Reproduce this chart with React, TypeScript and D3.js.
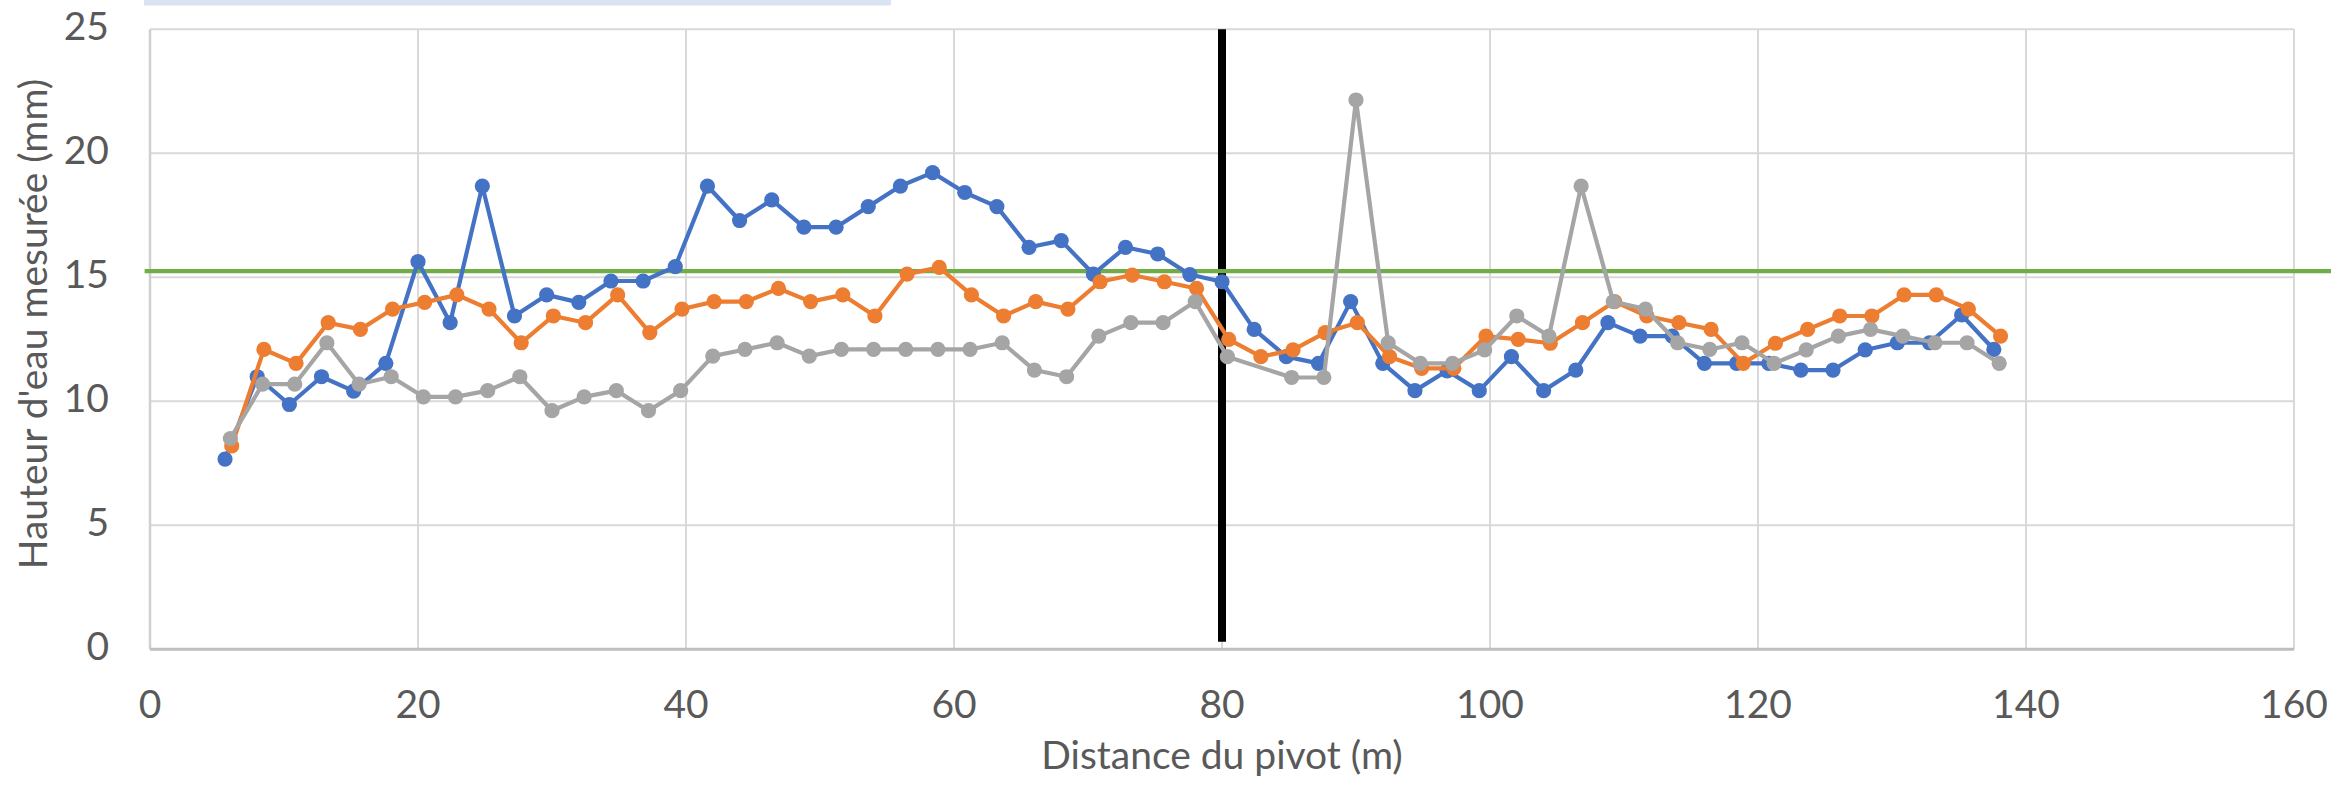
import React from "react";
import * as d3 from "d3";

// ---- data ----
const xTicks = [0, 20, 40, 60, 80, 100, 120, 140, 160];
const yTicks = [0, 5, 10, 15, 20, 25];

const blueX = [5.6, 8.0, 10.4, 12.8, 15.2, 17.6, 20.0, 22.4, 24.8, 27.2, 29.6, 32.0, 34.4, 36.8, 39.2, 41.6, 44.0, 46.4, 48.8, 51.2, 53.6, 56.0, 58.4, 60.8, 63.2, 65.6, 68.0, 70.4, 72.8, 75.2, 77.6, 80.0, 82.4, 84.8, 87.2, 89.6, 92.0, 94.4, 96.8, 99.2, 101.6, 104.0, 106.4, 108.8, 111.2, 113.6, 116.0, 118.4, 120.8, 123.2, 125.6, 128.0, 130.4, 132.8, 135.2, 137.6];
const blueY = [7.67, 10.99, 9.87, 10.99, 10.41, 11.53, 15.63, 13.17, 18.68, 13.44, 14.29, 13.99, 14.85, 14.85, 15.43, 18.68, 17.29, 18.12, 17.02, 17.02, 17.85, 18.68, 19.22, 18.42, 17.85, 16.21, 16.48, 15.13, 16.21, 15.94, 15.11, 14.82, 12.9, 11.8, 11.53, 14.02, 11.53, 10.43, 11.23, 10.43, 11.8, 10.43, 11.26, 13.17, 12.63, 12.63, 11.53, 11.53, 11.53, 11.26, 11.26, 12.07, 12.36, 12.36, 13.48, 12.09];

const orangeX = [6.1, 8.5, 10.9, 13.3, 15.7, 18.1, 20.5, 22.9, 25.3, 27.7, 30.1, 32.5, 34.9, 37.3, 39.7, 42.1, 44.5, 46.9, 49.3, 51.7, 54.1, 56.5, 58.9, 61.3, 63.7, 66.1, 68.5, 70.9, 73.3, 75.7, 78.1, 80.5, 82.9, 85.3, 87.7, 90.1, 92.5, 94.9, 97.3, 99.7, 102.1, 104.5, 106.9, 109.3, 111.7, 114.1, 116.5, 118.9, 121.3, 123.7, 126.1, 128.5, 130.9, 133.3, 135.7, 138.1];
const orangeY = [8.2, 12.09, 11.53, 13.17, 12.9, 13.72, 13.99, 14.29, 13.72, 12.36, 13.44, 13.17, 14.29, 12.77, 13.72, 14.02, 14.02, 14.55, 14.02, 14.29, 13.44, 15.13, 15.4, 14.29, 13.44, 14.02, 13.72, 14.82, 15.09, 14.82, 14.55, 12.5, 11.8, 12.07, 12.77, 13.17, 11.8, 11.33, 11.33, 12.63, 12.5, 12.34, 13.17, 14.02, 13.44, 13.17, 12.9, 11.53, 12.34, 12.9, 13.44, 13.44, 14.29, 14.29, 13.72, 12.63];

const grayX = [6.0, 8.4, 10.8, 13.2, 15.6, 18.0, 20.4, 22.8, 25.2, 27.6, 30.0, 32.4, 34.8, 37.2, 39.6, 42.0, 44.4, 46.8, 49.2, 51.6, 54.0, 56.4, 58.8, 61.2, 63.6, 66.0, 68.4, 70.8, 73.2, 75.6, 78.0, 80.4, 85.2, 87.6, 90.0, 92.4, 94.8, 97.2, 99.6, 102.0, 104.4, 106.8, 109.2, 111.6, 114.0, 116.4, 118.8, 121.2, 123.6, 126.0, 128.4, 130.8, 133.2, 135.6, 138.0];
const grayY = [8.5, 10.69, 10.69, 12.36, 10.69, 10.99, 10.18, 10.18, 10.43, 10.99, 9.62, 10.18, 10.43, 9.62, 10.43, 11.82, 12.09, 12.36, 11.82, 12.09, 12.09, 12.09, 12.09, 12.09, 12.36, 11.26, 10.99, 12.63, 13.17, 13.17, 14.02, 11.8, 10.96, 10.96, 22.15, 12.36, 11.53, 11.53, 12.07, 13.44, 12.63, 18.68, 14.02, 13.72, 12.36, 12.09, 12.36, 11.53, 12.07, 12.63, 12.9, 12.63, 12.36, 12.36, 11.53];

const thresholdY = 15.25;
const thresholdX = [-0.4, 162.8];
const pivotX = 80;
const pivotY = [0.3, 25];

const xTitle = "Distance du pivot (m)";
const yTitle = "Hauteur d'eau mesurée (mm)";

// ---- layout ----
const W = 2331;
const H = 786;
const left = 150;
const right = 2294;
const top = 29.3;
const bottom = 649.3;
const FONT = "Lato, 'Open Sans', sans-serif";
const TXT = "#595959";

const x = d3.scaleLinear().domain([0, 160]).range([left, right]);
const y = d3.scaleLinear().domain([0, 25]).range([bottom, top]);

type P = { x: number; y: number };
const zip = (xs: number[], ys: number[]): P[] => xs.map((v, i) => ({ x: v, y: ys[i] }));

const series = [
  { name: "s1", color: "#4472C4", pts: zip(blueX, blueY) },
  { name: "s2", color: "#ED7D31", pts: zip(orangeX, orangeY) },
  { name: "s3", color: "#A5A5A5", pts: zip(grayX, grayY) },
];

const line = d3
  .line<P>()
  .x((d) => x(d.x))
  .y((d) => y(d.y));

export default function App() {
  return (
    <svg
      width={W}
      height={H}
      style={{ position: "absolute", left: 0, top: 0, background: "#fff" }}
      fontFamily={FONT}
    >
      <rect x={0} y={0} width={W} height={H} fill="#fff" />
      <rect x={144} y={0} width={747} height={5.5} fill="#DAE3F3" />

      {/* gridlines */}
      {yTicks.filter((t) => t > 0).map((t) => (
        <line key={"gy" + t} x1={left} x2={right} y1={y(t)} y2={y(t)} stroke="#D9D9D9" strokeWidth={2} />
      ))}
      {xTicks.filter((t) => t > 0).map((t) => (
        <line key={"gx" + t} x1={x(t)} x2={x(t)} y1={top} y2={bottom} stroke="#D9D9D9" strokeWidth={2} />
      ))}
      {/* axes */}
      <line x1={left} x2={left} y1={top} y2={bottom} stroke="#D0D0D0" strokeWidth={2.5} />
      <line x1={left} x2={right} y1={bottom} y2={bottom} stroke="#BFBFBF" strokeWidth={3} />

      {/* tick labels */}
      {yTicks.map((t) => (
        <text key={"ty" + t} x={109} y={y(t) + 11} textAnchor="end" fontSize={39} fill={TXT}>
          {t}
        </text>
      ))}
      {xTicks.map((t) => (
        <text key={"tx" + t} x={x(t)} y={718} textAnchor="middle" fontSize={39} fill={TXT}>
          {t}
        </text>
      ))}

      {/* axis titles */}
      <text x={1222} y={769} textAnchor="middle" fontSize={39} fill={TXT}>
        {xTitle}
      </text>
      <text
        transform={`translate(47, 324) rotate(-90)`}
        textAnchor="middle"
        fontSize={39}
        fill={TXT}
      >
        {yTitle}
      </text>

      {/* reference lines */}
      <line x1={x(pivotX)} x2={x(pivotX)} y1={y(pivotY[0])} y2={y(pivotY[1])} stroke="#000" strokeWidth={8} />
      <line x1={x(thresholdX[0])} x2={x(thresholdX[1])} y1={y(thresholdY)} y2={y(thresholdY)} stroke="#70AD47" strokeWidth={4.2} />

      {/* series */}
      {series.map((s) => (
        <g key={s.name}>
          <path d={line(s.pts) || ""} fill="none" stroke={s.color} strokeWidth={4.2} strokeLinejoin="round" />
          {s.pts.map((p, i) => (
            <circle key={i} cx={x(p.x)} cy={y(p.y)} r={7.6} fill={s.color} />
          ))}
        </g>
      ))}
    </svg>
  );
}
